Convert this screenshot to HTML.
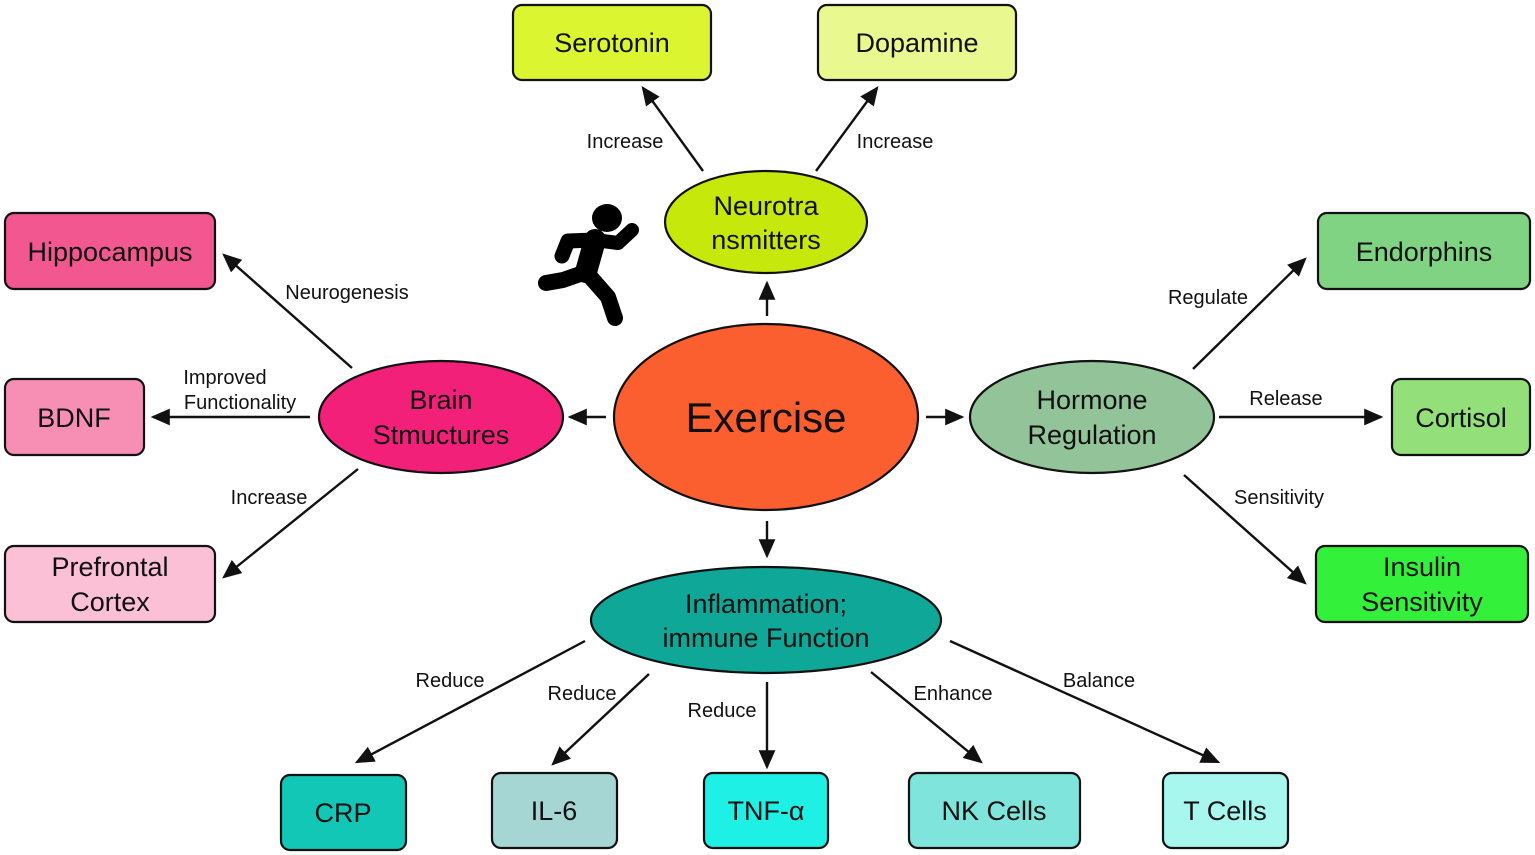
<!DOCTYPE html>
<html><head><meta charset="utf-8"><style>
html,body{margin:0;padding:0;background:#fff;}
svg{display:block;}
text{font-family:"Liberation Sans",Arial,sans-serif;fill:#111;}
.b{font-size:27px;text-anchor:middle;}
.l{font-size:20px;text-anchor:middle;}
.r{stroke:#111;stroke-width:2.2;}
.a{stroke:#111;stroke-width:2.4;marker-end:url(#ah);}
</style></head><body>
<svg width="1535" height="855" viewBox="0 0 1535 855" xmlns="http://www.w3.org/2000/svg">
<defs><marker id="ah" markerWidth="8" markerHeight="7" refX="7" refY="3.5" orient="auto" markerUnits="strokeWidth"><path d="M0,0 L8,3.5 L0,7 Z" fill="#111"/></marker></defs>

<rect class="r" x="513" y="5" width="198" height="75" rx="9" fill="#dcf531"/>
<text class="b" x="612" y="52">Serotonin</text>
<rect class="r" x="818" y="5" width="198" height="75" rx="9" fill="#eaf98f"/>
<text class="b" x="917" y="52">Dopamine</text>
<rect class="r" x="5" y="213" width="210" height="76" rx="9" fill="#f2578f"/>
<text class="b" x="110" y="261">Hippocampus</text>
<rect class="r" x="5" y="379" width="139" height="76" rx="9" fill="#f78fb5"/>
<text class="b" x="74" y="427">BDNF</text>
<rect class="r" x="5" y="546" width="210" height="76" rx="9" fill="#fbc0d6"/>
<text class="b" x="110" y="576">Prefrontal</text><text class="b" x="110" y="611">Cortex</text>
<rect class="r" x="1318" y="213" width="212" height="76" rx="9" fill="#7fd383"/>
<text class="b" x="1424" y="261">Endorphins</text>
<rect class="r" x="1392" y="379" width="138" height="76" rx="9" fill="#93e07a"/>
<text class="b" x="1461" y="427">Cortisol</text>
<rect class="r" x="1316" y="546" width="212" height="76" rx="9" fill="#33f03a"/>
<text class="b" x="1422" y="576">Insulin</text><text class="b" x="1422" y="611">Sensitivity</text>
<rect class="r" x="281" y="775" width="125" height="75" rx="9" fill="#13c7b6"/>
<text class="b" x="343" y="822">CRP</text>
<rect class="r" x="492" y="773" width="125" height="75" rx="9" fill="#a6d6d3"/>
<text class="b" x="554" y="820">IL-6</text>
<rect class="r" x="704" y="773" width="124" height="75" rx="9" fill="#1ff0e5"/>
<text class="b" x="766" y="820">TNF-α</text>
<rect class="r" x="909" y="773" width="171" height="75" rx="9" fill="#7ee4dc"/>
<text class="b" x="994" y="820">NK Cells</text>
<rect class="r" x="1163" y="773" width="125" height="75" rx="9" fill="#a8f7ef"/>
<text class="b" x="1225" y="820">T Cells</text>

<ellipse class="r" cx="766" cy="417" rx="152" ry="93" fill="#fb5f2f"/>
<text x="766" y="432" font-size="42" text-anchor="middle">Exercise</text>
<ellipse class="r" cx="766" cy="222" rx="101" ry="51" fill="#c6e80a"/>
<text class="b" x="766" y="215">Neurotra</text><text class="b" x="766" y="249">nsmitters</text>
<ellipse class="r" cx="441" cy="417" rx="122" ry="56" fill="#f3207a"/>
<text class="b" x="441" y="409">Brain</text><text class="b" x="441" y="444">Stmuctures</text>
<ellipse class="r" cx="1092" cy="417" rx="122" ry="56" fill="#93c398"/>
<text class="b" x="1092" y="409">Hormone</text><text class="b" x="1092" y="444">Regulation</text>
<ellipse class="r" cx="766" cy="620" rx="175" ry="53" fill="#0fa898"/>
<text class="b" x="766" y="613">Inflammation;</text><text class="b" x="766" y="647">immune Function</text>

<line class="a" x1="703" y1="171" x2="643" y2="88"/>
<line class="a" x1="816" y1="171" x2="877" y2="88"/>
<line class="a" x1="767" y1="316" x2="767" y2="283"/>
<line class="a" x1="606" y1="417" x2="570" y2="417"/>
<line class="a" x1="926" y1="417" x2="962" y2="417"/>
<line class="a" x1="767" y1="521" x2="767" y2="556"/>
<line class="a" x1="352" y1="368" x2="224" y2="255"/>
<line class="a" x1="310" y1="417" x2="153" y2="417"/>
<line class="a" x1="358" y1="469" x2="224" y2="577"/>
<line class="a" x1="1193" y1="369" x2="1305" y2="259"/>
<line class="a" x1="1219" y1="417" x2="1381" y2="417"/>
<line class="a" x1="1184" y1="475" x2="1305" y2="583"/>
<line class="a" x1="585" y1="641" x2="357" y2="762"/>
<line class="a" x1="649" y1="674" x2="553" y2="764"/>
<line class="a" x1="767" y1="682" x2="767" y2="767"/>
<line class="a" x1="871" y1="672" x2="981" y2="762"/>
<line class="a" x1="950" y1="641" x2="1218" y2="762"/>

<text class="l" x="625" y="148">Increase</text>
<text class="l" x="895" y="148">Increase</text>
<text class="l" x="347" y="299">Neurogenesis</text>
<text class="l" x="225" y="384">Improved</text>
<text class="l" x="240" y="409">Functionality</text>
<text class="l" x="269" y="504">Increase</text>
<text class="l" x="1208" y="304">Regulate</text>
<text class="l" x="1286" y="405">Release</text>
<text class="l" x="1279" y="504">Sensitivity</text>
<text class="l" x="450" y="687">Reduce</text>
<text class="l" x="582" y="700">Reduce</text>
<text class="l" x="722" y="717">Reduce</text>
<text class="l" x="953" y="700">Enhance</text>
<text class="l" x="1099" y="687">Balance</text>

<g stroke="#000" stroke-linecap="round" stroke-linejoin="round" fill="none">
<ellipse cx="607" cy="218" rx="15" ry="14" fill="#000" stroke="none"/>
<path d="M595,240 L586,272" stroke-width="22"/>
<path d="M595,240 L568,241 L562,256" stroke-width="15"/>
<path d="M595,240 L618,243 L632,230" stroke-width="14"/>
<path d="M586,272 L563,280 L546,283" stroke-width="16"/>
<path d="M586,272 L608,297 L615,318" stroke-width="16"/>
</g>
</svg>
</body></html>
